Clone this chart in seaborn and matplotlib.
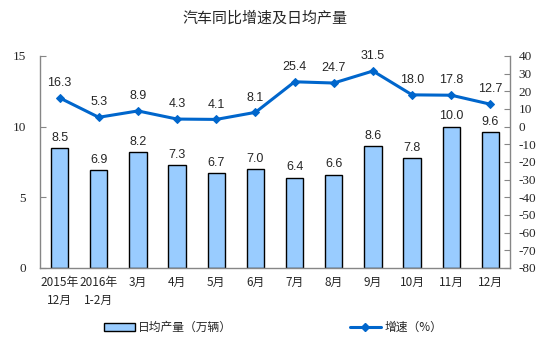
import numpy as np
import pandas as pd
import matplotlib
matplotlib.use("Agg")
import matplotlib.pyplot as plt
from matplotlib.patches import Patch
from matplotlib.lines import Line2D
import seaborn as sns

months = ["2015年\n12月", "2016年\n1-2月", "3月", "4月", "5月", "6月",
          "7月", "8月", "9月", "10月", "11月", "12月"]
daily_output = [8.5, 6.9, 8.2, 7.3, 6.7, 7.0, 6.4, 6.6, 8.6, 7.8, 10.0, 9.6]
growth_rate = [16.3, 5.3, 8.9, 4.3, 4.1, 8.1, 25.4, 24.7, 31.5, 18.0, 17.8, 12.7]
left_ticks = [0, 5, 10, 15]
right_ticks = list(range(-80, 41, 10))

sns.set_style("white")
plt.rcParams["font.family"] = ["Noto Sans CJK SC", "DejaVu Sans"]
plt.rcParams["axes.unicode_minus"] = False

BAR_COLOR = "#99CCFF"
LINE_COLOR = "#0066CC"
AXIS_COLOR = "#868686"

df = pd.DataFrame({"month": months, "daily": daily_output, "growth": growth_rate,
                   "pos": np.arange(len(months))})

fig = plt.figure(figsize=(5.54, 3.45), dpi=100)
ax = fig.add_axes([0.0722, 0.2232, 0.8484, 0.6145])

sns.barplot(data=df, x="month", y="daily", color=BAR_COLOR, edgecolor="black",
            linewidth=1.0, width=0.44, saturation=1, ax=ax)
ax.set_xlim(-0.5, len(months) - 0.5)
ax.set_ylim(0, 15)
ax.set_yticks(left_ticks)
ax.set_xlabel("")
ax.set_ylabel("")

ax2 = ax.twinx()
sns.lineplot(data=df, x="pos", y="growth", color=LINE_COLOR, linewidth=2.2,
             marker="D", markersize=4.5, markeredgecolor=LINE_COLOR, sort=False, ax=ax2)
ax2.set_ylim(-80, 40)
ax2.set_yticks(right_ticks)
ax2.set_xlim(-0.5, len(months) - 0.5)
ax2.set_xlabel("")
ax2.set_ylabel("")

for a in (ax, ax2):
    for sp in a.spines.values():
        sp.set_color(AXIS_COLOR)
        sp.set_linewidth(1.0)
    a.spines["top"].set_visible(False)
    a.grid(False)

ax.spines["right"].set_visible(False)
ax2.spines["left"].set_visible(False)
ax2.spines["bottom"].set_visible(False)

ax.tick_params(axis="y", direction="in", length=4, color=AXIS_COLOR, pad=10,
               left=True, labelsize=9.5)
ax2.tick_params(axis="y", direction="in", length=4, color=AXIS_COLOR, pad=6,
                right=True, labelsize=9.5)
for lab in ax.get_yticklabels() + ax2.get_yticklabels():
    lab.set_fontfamily(["Liberation Serif"])

# category labels centred, tick marks at category boundaries
ax.set_xticks(np.arange(len(months)))
ax.set_xticklabels(months, fontsize=8.5, linespacing=1.5)
ax.tick_params(axis="x", which="major", length=0, pad=6)
ax.set_xticks(np.arange(-0.5, len(months), 1), minor=True)
ax.tick_params(axis="x", which="minor", direction="in", length=4, color=AXIS_COLOR)

# value labels
for i, v in enumerate(daily_output):
    ax.text(i, v + 0.3, f"{v:.1f}", ha="center", va="bottom",
            family=["Liberation Sans"], fontsize=9)
for i, v in enumerate(growth_rate):
    ax2.text(i, v + 5, f"{v:.1f}", ha="center", va="bottom",
             family=["Liberation Sans"], fontsize=9)

fig.text(0.479, 0.945, "汽车同比增速及日均产量", ha="center", va="center", fontsize=10.8)

legend_kw = dict(loc="center left", frameon=False, fontsize=8.5, handlelength=2.6,
                 handleheight=0.6, handletextpad=0.3, borderpad=0, borderaxespad=0)
fig.legend([Patch(facecolor=BAR_COLOR, edgecolor="black", linewidth=1.0)],
           ["日均产量（万辆）"], bbox_to_anchor=(0.188, 0.05), **legend_kw)
fig.legend([Line2D([], [], color=LINE_COLOR, linewidth=2.2, marker="D", markersize=4.5)],
           ["增速（%）"], bbox_to_anchor=(0.632, 0.05), **legend_kw)

fig.savefig("out.png", dpi=100)
